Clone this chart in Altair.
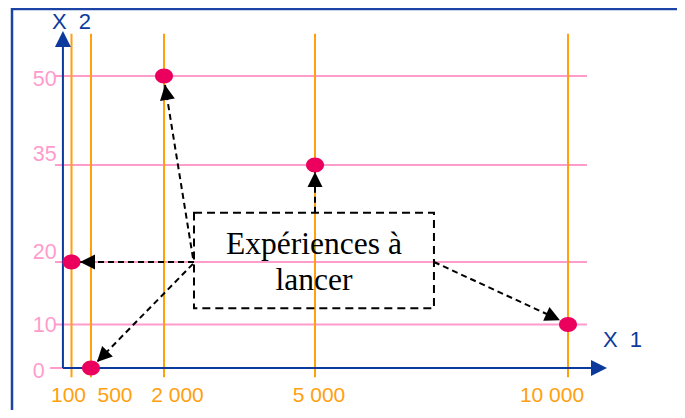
import math
import bisect
import pandas as pd
import altair as alt

# ---------------- data ----------------
x1_levels = [100, 500, 2000, 5000, 10000]
x1_labels = ["100", "500", "2 000", "5 000", "10 000"]
x2_levels = [0, 10, 20, 35, 50]
x2_labels = ["0", "10", "20", "35", "50"]
exp_x1 = [500, 100, 2000, 5000, 10000]
exp_x2 = [0, 20, 50, 35, 10]
box_text = ["Expériences à", "lancer"]
axis_titles = ["X\u00a0\u00a01", "X\u00a0\u00a02"]

# ---------------- layout ----------------
W, H = 669, 402
X_DOMAIN = [0, 100, 500, 2000, 5000, 10000]
X_RANGE = [58.6, 63.5, 83, 156, 307, 560]
Y_DOMAIN = [0, 10, 20, 35, 50]
Y_RANGE = [360, 316.5, 254, 157, 68]

# annotation geometry (data units)
grid_x_from, grid_x_to, zero_x_from = -237, 10375, -339
vline_from, vline_to = -2.1, 57.1
axis_x_pos = -75
yaxis_tip = 57.6
xaxis_tip = 10771
box_x, box_x2, box_y, box_y2 = 2596, 7351, 12.6, 27.6
text_x, text_y = 4980, 22.6
arrow_start_x = [2596, 2576, 2576, 5000, 7351]
arrow_start_y = [20, 20.6, 19.7, 27.6, 20]
arrow_tip_x = [274, 2020, 623, 5000, 9841]
arrow_tip_y = [20, 48.5, 1.4, 33.9, 10.7]
ylab_x = -690
ylab_dy = [4, 1, -9, -10.5, 3.5]
xlab_dx = [-3, 24, 13.5, 4, -16]
xlab_dy = 28
title_pos = [(11077, 6.4), (100, 59.1)]

# colours
BLUE = "#0b3a9c"
ORANGE = "#ffa00f"
PINK = "#ff9ccc"
RED = "#eb005e"

ELLIPSE = "M-1,0A1,0.83,0,1,0,1,0A1,0.83,0,1,0,-1,0Z"
HEAD = "M0,0L-1,2L1,2Z"


def scale_px(v, dom, rng):
    j = min(max(bisect.bisect_right(dom, v) - 1, 0), len(dom) - 2)
    t = (v - dom[j]) / (dom[j + 1] - dom[j])
    return rng[j] + t * (rng[j + 1] - rng[j])


def head_angle(x0, y0, x1, y1):
    dx = scale_px(x1, X_DOMAIN, X_RANGE) - scale_px(x0, X_DOMAIN, X_RANGE)
    dy = scale_px(y1, Y_DOMAIN, Y_RANGE) - scale_px(y0, Y_DOMAIN, Y_RANGE)
    return math.degrees(math.atan2(dx, -dy)) % 360


xs = alt.Scale(domain=X_DOMAIN, range=X_RANGE, nice=False, zero=False)
ys = alt.Scale(domain=Y_DOMAIN, range=Y_RANGE, nice=False, zero=False)


def X(f):
    return alt.X(f, type="quantitative", scale=xs, axis=None)


def Y(f):
    return alt.Y(f, type="quantitative", scale=ys, axis=None)


layers = []

# frame (left and top edges of the slide box)
layers.append(alt.Chart(pd.DataFrame({"a": [0]})).mark_rule(color="#1c44a6", strokeWidth=2.5).encode(
    x=alt.value(4), y=alt.value(0), y2=alt.value(H)))
layers.append(alt.Chart(pd.DataFrame({"a": [0]})).mark_rule(color="#1c44a6", strokeWidth=2.5).encode(
    x=alt.value(4), x2=alt.value(W), y=alt.value(1)))

# pink horizontal lines
hdf = pd.DataFrame({"y": x2_levels,
                    "xa": [zero_x_from if v == 0 else grid_x_from for v in x2_levels],
                    "xb": [grid_x_to] * len(x2_levels)})
layers.append(alt.Chart(hdf).mark_rule(color=PINK, strokeWidth=2).encode(
    x=X("xa"), x2="xb:Q", y=Y("y")))

# orange vertical lines
vdf = pd.DataFrame({"x": x1_levels, "ya": [vline_from] * 5, "yb": [vline_to] * 5})
layers.append(alt.Chart(vdf).mark_rule(color=ORANGE, strokeWidth=2).encode(
    x=X("x"), y=Y("ya"), y2="yb:Q"))

# blue axes
adf = pd.DataFrame({"xa": [axis_x_pos, axis_x_pos], "xb": [axis_x_pos, xaxis_tip - 250],
                    "ya": [0, 0], "yb": [yaxis_tip - 1.5, 0]})
layers.append(alt.Chart(adf).mark_rule(color=BLUE, strokeWidth=2).encode(
    x=X("xa"), x2="xb:Q", y=Y("ya"), y2="yb:Q"))
ahd = pd.DataFrame({"x": [axis_x_pos, xaxis_tip], "y": [yaxis_tip, 0], "angle": [0, 90]})
layers.append(alt.Chart(ahd).mark_point(shape=HEAD, filled=True, size=256, color=BLUE, opacity=1,
                                        strokeWidth=0).encode(
    x=X("x"), y=Y("y"), angle=alt.Angle("angle:Q", scale=None)))

# axis titles
tdf = pd.DataFrame({"x": [p[0] for p in title_pos], "y": [p[1] for p in title_pos], "t": axis_titles})
layers.append(alt.Chart(tdf).mark_text(font="Liberation Sans", fontSize=22, color=BLUE,
                                       baseline="middle", align="center").encode(
    x=X("x"), y=Y("y"), text="t:N"))

# tick labels (x2, pink)
for v, lab, dy in zip(x2_levels, x2_labels, ylab_dy):
    d = pd.DataFrame({"x": [ylab_x], "y": [v], "t": [lab]})
    layers.append(alt.Chart(d).mark_text(font="Liberation Sans", fontSize=21.5, color=PINK,
                                         align="left", baseline="middle", dy=dy).encode(
        x=X("x"), y=Y("y"), text="t:N"))

# tick labels (x1, orange)
for v, lab, dx in zip(x1_levels, x1_labels, xlab_dx):
    d = pd.DataFrame({"x": [v], "y": [0], "t": [lab]})
    layers.append(alt.Chart(d).mark_text(font="Liberation Sans", fontSize=21, color=ORANGE,
                                         align="center", baseline="middle", dx=dx, dy=xlab_dy).encode(
        x=X("x"), y=Y("y"), text="t:N"))

# dashed box with text
bdf = pd.DataFrame({"x": [box_x], "x2": [box_x2], "y": [box_y], "y2": [box_y2]})
layers.append(alt.Chart(bdf).mark_rect(fill=None, fillOpacity=0, stroke="black", strokeWidth=2,
                                       strokeDash=[8, 5]).encode(
    x=X("x"), x2="x2:Q", y=Y("y"), y2="y2:Q"))
txt = pd.DataFrame({"x": [text_x], "y": [text_y], "t": ["\n".join(box_text)]})
layers.append(alt.Chart(txt).mark_text(font="Liberation Serif", fontSize=31.5, color="black",
                                       lineBreak="\n", lineHeight=36, align="center",
                                       baseline="middle").encode(
    x=X("x"), y=Y("y"), text="t:N"))

# dashed arrows
ardf = pd.DataFrame({"xs": arrow_start_x, "ys": arrow_start_y, "xt": arrow_tip_x, "yt": arrow_tip_y})
ardf["angle"] = [head_angle(a, b, c, d) for a, b, c, d in
                 zip(arrow_start_x, arrow_start_y, arrow_tip_x, arrow_tip_y)]
layers.append(alt.Chart(ardf).mark_rule(color="black", strokeWidth=2, strokeDash=[6, 4]).encode(
    x=X("xs"), x2="xt:Q", y=Y("ys"), y2="yt:Q"))

# experiment points
pdf = pd.DataFrame({"x1": exp_x1, "x2": exp_x2})
layers.append(alt.Chart(pdf).mark_point(shape=ELLIPSE, filled=True, size=324, color=RED, opacity=1,
                                        strokeWidth=0).encode(
    x=X("x1"), y=Y("x2")))

# arrow heads
layers.append(alt.Chart(ardf).mark_point(shape=HEAD, filled=True, size=225, color="black", opacity=1,
                                         strokeWidth=0).encode(
    x=X("xt"), y=Y("yt"), angle=alt.Angle("angle:Q", scale=None)))

chart = alt.layer(*layers).properties(
    width=W, height=H, padding=0, autosize=alt.AutoSizeParams(type="none")
).configure_view(stroke=None)

chart.save("out.html", embed_options={"renderer": "svg", "actions": False})
